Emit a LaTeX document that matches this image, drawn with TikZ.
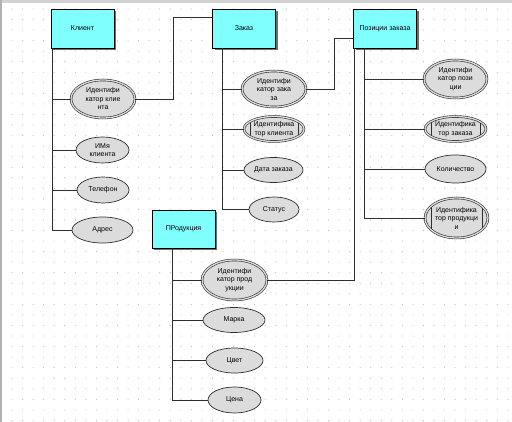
\documentclass[tikz,border=0pt]{standalone}
\usepackage{fontspec}
\setmainfont{Liberation Sans}
\usepackage{tikz}
\usetikzlibrary{positioning,shapes.geometric,shadows}
\definecolor{Aqua}{HTML}{80FFFF}
\definecolor{Silver}{HTML}{DCDCDC}
\definecolor{Ink}{HTML}{2E2E2E}
\definecolor{Dot}{HTML}{B4B4B4}
\tikzset{
  entbox/.style={draw=black, line width=0.7pt, fill=Aqua, minimum width=63pt,
    minimum height=39pt, inner sep=0pt, font=\fontsize{7}{8.5}\selectfont,
    drop shadow={shadow xshift=2pt, shadow yshift=-2pt, fill=Ink!70, opacity=1}},
  attr/.style={ellipse, draw=Ink, line width=0.7pt, fill=Silver, inner sep=0pt,
    align=center, font=\fontsize{7}{8.5}\selectfont,
    minimum width=#1},
  attr/.default={55pt},
  link/.style={draw=Ink, line width=0.8pt},
}

\begin{document}
\begin{tikzpicture}[x=1pt, y=-1pt,
  keyattr/.style={attr=#1, double=Silver, double distance=1.3pt, line width=0.6pt},
  fkattr/.style={keyattr=#1,
    path picture={
      \draw[Ink, line width=0.6pt] ([xshift=6pt]path picture bounding box.south west)
        -- ([xshift=6pt]path picture bounding box.north west);
      \draw[Ink, line width=0.6pt] ([xshift=-6pt]path picture bounding box.south east)
        -- ([xshift=-6pt]path picture bounding box.north east);}},
]
  \useasboundingbox (0,0) rectangle (512,422);
  % window edge and dotted grid
  \fill[gray!35] (0,0) rectangle (512,3);
  \fill[gray!60] (0,0) rectangle (1.5,422);
  \foreach \i in {0,...,47}
    \foreach \j in {0,...,39}
      \fill[Dot] (12+\i*10.55, 9+\j*10.55) circle (0.55pt);

  % entities
  \node[entbox] (klient) at (82.5,28.5) {Клиент};
  \node[entbox] (zakaz) at (244,28.5) {Заказ};
  \node[entbox] (pozicii) at (385,28.5) {Позиции заказа};
  \node[entbox, minimum height=38pt] (produkcija) at (183.5,229) {ПРодукция};

  % attributes of Клиент
  \node[keyattr=64pt, minimum height=38pt] (idklient) at (103,99) {Идентифи\\катор клие\\нта};
  \node[attr=53pt, minimum height=26pt] (imja) at (102.5,150) {ИМя\\клиента};
  \node[attr=52pt, minimum height=26pt] (telefon) at (103,190) {Телефон};
  \node[attr=61pt, minimum height=26pt] (adres) at (102.5,230) {Адрес};

  % attributes of Заказ
  \node[keyattr=64pt, minimum height=36pt] (idzakaz) at (274,89) {Идентифи\\катор зака\\за};
  \node[fkattr=60pt, minimum height=25pt] (zkklient) at (274,129) {Идентифика\\тор клиента};
  \node[attr=59pt, minimum height=25pt] (data) at (273.5,170) {Дата заказа};
  \node[attr=50pt, minimum height=25pt] (status) at (274,209.5) {Статус};

  % attributes of Позиции заказа
  \node[keyattr=63pt, minimum height=38pt] (idpoz) at (455.5,79) {Идентифи\\катор пози\\ции};
  \node[fkattr=61pt, minimum height=25pt] (pzzakaz) at (455.5,129) {Идентифика\\тор заказа};
  \node[attr=61pt, minimum height=28pt] (kolvo) at (455.5,169) {Количество};
  \node[fkattr=63pt, minimum height=40pt] (pzprod) at (456.5,218) {Идентифика\\тор продукци\\и};

  % attributes of ПРодукция
  \node[keyattr=65pt, minimum height=40pt] (idprod) at (234.5,280) {Идентифи\\катор прод\\укции};
  \node[attr=62pt, minimum height=25pt] (marka) at (234,320) {Марка};
  \node[attr=57pt, minimum height=25pt] (cvet) at (234.5,360.5) {Цвет};
  \node[attr=53pt, minimum height=26pt] (cena) at (234.5,400) {Цена};

  % trunks
  \coordinate (tk) at ([xshift=2pt]klient.south west);
  \coordinate (tz) at ([xshift=10pt]zakaz.south west);
  \coordinate (tp) at ([xshift=11pt]pozicii.south west);
  \coordinate (tr) at ([xshift=21pt]produkcija.south west);

  \foreach \a in {idklient,imja,telefon,adres}
    \draw[link] (tk) |- (\a);
  \foreach \a in {idzakaz,zkklient,data,status}
    \draw[link] (tz) |- (\a);
  \foreach \a in {idpoz,pzzakaz,kolvo,pzprod}
    \draw[link] (tp) |- (\a);
  \foreach \a in {idprod,marka,cvet,cena}
    \draw[link] (tr) |- (\a);

  % relationships
  \draw[link] (idklient.east) -- ++(38,0) |- ([yshift=-9pt]zakaz.north west);
  \draw[link] (idzakaz.east) -- ++(28,0) |- ([yshift=-30pt]pozicii.north west);
  \draw[link] (idprod.east) -| ([xshift=1pt]pozicii.south west);
\end{tikzpicture}
\end{document}
